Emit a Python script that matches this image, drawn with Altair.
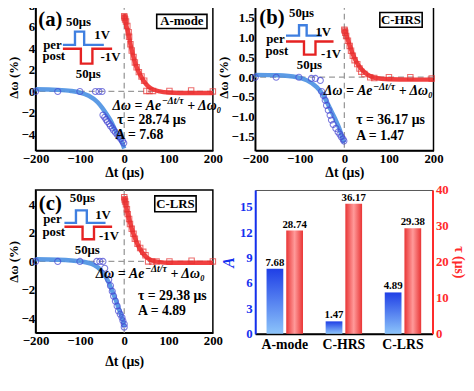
import altair as alt
import pandas as pd

FONT = "Liberation Serif"
BLUE_PT = "#4646d2"
BLUE_LN = "#4a90e2"
RED_PT = "#e63232"
RED_LN = "#ef2b2b"
PULSE_B = "#3f7fe0"
PULSE_R = "#e52222"
AX_BLUE = "#1430f0"
AX_RED = "#ff2a2a"

X_TICKS = [-200, -100, 0, 100, 200]
ZERO = [0]
INSET_TEXT = ["50μs", "1V", "per", "post", "-1V", "50μs"]

# ---------------- (a) A-mode ----------------
A_PRE_T = [-200, -150, -100, -65, -57, -50, -48, -44, -41, -38, -34, -31, -27, -24, -20, -16, -12, -8, -4, -1]
A_PRE_V = [0.0, 0.0, 0.0, 0.0, 0.0, 0.0, -2.2, -2.4, -2.6, -2.8, -3.0, -3.2, -3.4, -3.6, -3.8, -4.0, -4.2, -4.4, -4.6, -4.8]
A_PREFIT_T = [-200, -150, -120, -100, -80, -60, -50, -40, -30, -20, -10, -5, 0]
A_PREFIT_V = [0.2, 0.15, 0.05, -0.1, -0.4, -1.0, -1.5, -2.1, -2.75, -3.6, -4.35, -4.75, -5.3]
A_POST_T = [0, 1, 2, 4, 7, 10, 11, 14, 17, 21, 24, 28, 33, 39, 45, 50, 57, 65, 102, 151, 200]
A_POST_V = [7.0, 6.85, 6.7, 6.5, 6.1, 5.5, 5.1, 4.4, 3.8, 3.2, 2.7, 2.25, 1.8, 1.4, 1.0, 0.05, 0.05, 0.05, 0.05, 0.1, 0.0]
A_POSTFIT_T = [0, 5, 10, 15, 20, 25, 30, 40, 50, 60, 80, 100, 150, 200]
A_POSTFIT_V = [7.2, 6.1, 5.3, 4.2, 3.35, 2.6, 2.05, 1.25, 0.65, 0.3, 0.0, -0.1, -0.15, -0.15]
A_PULSE_B_T = [-138.4, -111.1, -111.1, -90.4, -90.4, -46]
A_PULSE_B_V = [4.33, 4.33, 5.56, 5.56, 4.33, 4.33]
A_PULSE_R_T = [-138.4, -97.8, -97.8, -71.8, -71.8, -27.3]
A_PULSE_R_V = [3.97, 3.97, 2.59, 2.59, 3.97, 3.97]
A_INSET_T = [-103, -50, -162, -159, -31, -81]
A_INSET_V = [6.5, 5.22, 4.30, 3.30, 3.2, 1.65]
A_TAG = ["(a)", -166.7, 6.68]
A_BOX = ["A-mode", 73.3, 186.7, 7.17, 5.86]
A_EQ = [-26.7, -1.37]
A_TAU = ["τ = 28.74 μs", -15.6, -2.66]
A_AMP = ["A = 7.68", -20, -4.03]
A_YDOM = [-5.5, 8.15]
A_YTICKS = [-4, -2, 0, 2, 4, 6, 8]

# ---------------- (b) C-HRS ----------------
B_PRE_T = [-200, -153, -102, -74, -65, -54, -51, -47, -43, -40, -36, -32, -29, -25, -19, -14, -10, -7, -3, -1]
B_PRE_V = [0.0, 0.0, 0.0, -0.03, -0.03, -0.08, -0.36, -0.46, -0.58, -0.71, -0.83, -0.96, -1.08, -1.19, -1.29, -1.38, -1.44, -1.5, -1.56, -1.61]
B_PREFIT_T = [-200, -150, -106, -84, -62, -47, -32, -21, -10, -3, 0]
B_PREFIT_V = [0.06, 0.05, 0.0, -0.08, -0.25, -0.46, -0.79, -1.04, -1.33, -1.58, -1.65]
B_POST_T = [0, 1, 2, 4, 8, 12, 15, 19, 23, 29, 34, 38, 45, 58, 67, 100, 148, 196]
B_POST_V = [1.2, 1.17, 1.12, 1.04, 0.92, 0.79, 0.67, 0.54, 0.43, 0.33, 0.22, 0.14, 0.08, 0.0, -0.02, 0.0, 0.0, -0.03]
B_POSTFIT_T = [0, 10, 20, 30, 40, 50, 70, 100, 150, 200]
B_POSTFIT_V = [1.22, 0.87, 0.55, 0.33, 0.18, 0.08, -0.02, -0.05, -0.06, -0.06]
B_PULSE_B_T = [-131, -101.7, -101.7, -84.6, -84.6, -50.2]
B_PULSE_B_V = [1.05, 1.05, 1.31, 1.31, 1.05, 1.05]
B_PULSE_R_T = [-131, -90.6, -90.6, -64.8, -64.8, -24.3]
B_PULSE_R_V = [0.9, 0.9, 0.57, 0.57, 0.9, 0.9]
B_INSET_T = [-96, -47.5, -154.7, -151.4, -29.8, -78.5]
B_INSET_V = [1.62, 1.15, 0.96, 0.66, 0.58, 0.31]
B_TAG = ["(b)", -162.4, 1.48]
B_BOX = ["C-HRS", 79.6, 174.6, 1.63, 1.26]
B_EQ = [-46, -0.36]
B_TAU = ["τ = 36.17 μs", 26.5, -1.08]
B_AMP = ["A = 1.47", 26.5, -1.48]
B_YDOM = [-1.85, 1.85]
B_YTICKS = [-1.5, -1.0, -0.5, 0.0, 0.5, 1.0, 1.5]

# ---------------- (c) C-LRS ----------------
C_PRE_T = [-200, -150, -100, -62, -55, -48, -44, -38, -35, -31, -27, -24, -20, -16, -13, -9, -5, -3, 0, 0]
C_PRE_V = [0.0, 0.0, 0.0, 0.0, 0.0, 0.0, -0.48, -0.94, -1.29, -1.7, -2.09, -2.43, -2.78, -3.12, -3.47, -3.7, -3.93, -4.16, -4.39, -4.6]
C_PREFIT_T = [-200, -150, -98, -68, -53, -38, -24, -13, -2, 0]
C_PREFIT_V = [0.15, 0.12, 0.0, -0.25, -0.6, -1.29, -2.32, -3.24, -4.28, -4.6]
C_POST_T = [0, 1, 2, 4, 6, 8, 11, 13, 17, 21, 24, 30, 36, 43, 48, 54, 63, 73, 102, 152, 200]
C_POST_V = [4.5, 4.34, 4.2, 4.0, 3.66, 3.31, 2.97, 2.62, 2.28, 1.93, 1.59, 1.24, 0.94, 0.67, 0.43, 0.0, 0.0, 0.0, 0.0, 0.05, 0.0]
C_POSTFIT_T = [0, 5, 10, 15, 20, 30, 40, 50, 60, 80, 100, 150, 200]
C_POSTFIT_V = [4.55, 3.75, 3.1, 2.5, 2.0, 1.2, 0.65, 0.3, 0.1, -0.05, -0.1, -0.1, -0.1]
C_PULSE_B_T = [-134.9, -108.9, -108.9, -84.4, -84.4, -42.2]
C_PULSE_B_V = [2.70, 2.70, 3.57, 3.57, 2.70, 2.70]
C_PULSE_R_T = [-134.9, -94, -94, -68.2, -68.2, -27.3]
C_PULSE_R_V = [2.43, 2.43, 1.55, 1.55, 2.43, 2.43]
C_INSET_T = [-94.4, -47.8, -162, -159, -34.4, -83.3]
C_INSET_V = [4.45, 3.28, 2.98, 2.06, 1.78, 0.81]
C_TAG = ["(c)", -166.7, 4.03]
C_BOX = ["C-LRS", 68.9, 162.2, 4.59, 3.48]
C_EQ = [-64.4, -0.86]
C_TAU = ["τ = 29.38 μs", 31.1, -2.45]
C_AMP = ["A = 4.89", 31.1, -3.48]
C_YDOM = [-5, 5]
C_YTICKS = [-4, -2, 0, 2, 4]

# ---------------- (d) bars ----------------
CATS = ["A-mode", "C-HRS", "C-LRS"]
A_VALS = [7.68, 1.47, 4.89]
TAU_VALS = [28.74, 36.17, 29.38]


def scatter_panel(pre_t, pre_v, pft, pfv, post_t, post_v, qft, qfv,
                  pbt, pbv, prt, prv, inset_t, inset_v, tag, box, eq, tau, amp,
                  ydom, yticks, yfmt, width, height, xtitle_pad):
    xs = alt.Scale(domain=[-200, 200], nice=False)
    ys = alt.Scale(domain=ydom, nice=False, zero=False)
    xax = alt.Axis(values=X_TICKS, title="Δt (μs)", labelPadding=2, titlePadding=xtitle_pad)
    yax = alt.Axis(values=yticks, format=yfmt, title="Δω (%)", labelPadding=1, titlePadding=0,
                   titleFontSize=13)
    X = alt.X("t:Q", scale=xs, axis=xax)
    Y = alt.Y("v:Q", scale=ys, axis=yax)

    zero_df = pd.DataFrame({"t": ZERO, "v": ZERO})
    hline = alt.Chart(zero_df).mark_rule(color="#9a9a9a", strokeDash=[6, 4], strokeWidth=1.3).encode(y=Y)
    vline = alt.Chart(zero_df).mark_rule(color="#9a9a9a", strokeDash=[6, 4], strokeWidth=1.3).encode(x=X)

    pre_fit = alt.Chart(pd.DataFrame({"t": pft, "v": pfv})).mark_line(
        color=BLUE_LN, strokeWidth=4.5, opacity=0.9, interpolate="monotone").encode(x=X, y=Y)
    post_fit = alt.Chart(pd.DataFrame({"t": qft, "v": qfv})).mark_line(
        color=RED_LN, strokeWidth=4.5, opacity=0.9, interpolate="monotone").encode(x=X, y=Y)
    pre_pts = alt.Chart(pd.DataFrame({"t": pre_t, "v": pre_v})).mark_point(
        shape="circle", filled=False, color=BLUE_PT, size=38, strokeWidth=1.1).encode(x=X, y=Y)
    post_pts = alt.Chart(pd.DataFrame({"t": post_t, "v": post_v})).mark_point(
        shape="square", filled=False, color=RED_PT, size=30, strokeWidth=1.1).encode(x=X, y=Y)

    pulse_df = pd.DataFrame({
        "t": list(pbt) + list(prt),
        "v": list(pbv) + list(prv),
        "s": ["per"] * len(pbt) + ["post"] * len(prt),
        "i": list(range(len(pbt))) + list(range(len(prt))),
    })
    pulses = alt.Chart(pulse_df).mark_line(strokeWidth=2.4).encode(
        x=X, y=Y, order="i:Q",
        color=alt.Color("s:N", scale=alt.Scale(domain=["per", "post"], range=[PULSE_B, PULSE_R]), legend=None))

    inset_df = pd.DataFrame({"t": inset_t, "v": inset_v, "text": INSET_TEXT})
    inset = alt.Chart(inset_df).mark_text(font=FONT, fontWeight="bold", fontSize=13,
                                          color="black", baseline="middle").encode(x=X, y=Y, text="text:N")
    tag_df = pd.DataFrame({"t": [tag[1]], "v": [tag[2]], "text": [tag[0]]})
    tagm = alt.Chart(tag_df).mark_text(font=FONT, fontWeight="bold", fontSize=21,
                                       color="black", baseline="middle").encode(x=X, y=Y, text="text:N")
    box_df = pd.DataFrame({"t": [box[1]], "t2": [box[2]], "v": [box[3]], "v2": [box[4]],
                           "tc": [(box[1] + box[2]) / 2], "vc": [(box[3] + box[4]) / 2], "text": [box[0]]})
    boxr = alt.Chart(box_df).mark_rect(fill="white", stroke="black", strokeWidth=1.6).encode(
        x=X, x2="t2", y=Y, y2="v2")
    boxt = alt.Chart(box_df).mark_text(font=FONT, fontWeight="bold", fontSize=13, color="black",
                                       baseline="middle").encode(
        x=alt.X("tc:Q", scale=xs, axis=xax), y=alt.Y("vc:Q", scale=ys, axis=yax), text="text:N")

    eq_df = pd.DataFrame({"t": [eq[0]], "v": [eq[1]]})
    eq_kw = dict(font=FONT, fontWeight="bold", fontStyle="italic", color="black",
                 align="left", baseline="middle")
    eq1 = alt.Chart(eq_df).mark_text(fontSize=14, **eq_kw).encode(x=X, y=Y, text=alt.value("Δω = Ae"))
    eq2 = alt.Chart(eq_df).mark_text(fontSize=10, dx=50, dy=-5, **eq_kw).encode(x=X, y=Y, text=alt.value("−Δt/τ"))
    eq3 = alt.Chart(eq_df).mark_text(fontSize=14, dx=76, **eq_kw).encode(x=X, y=Y, text=alt.value("+ Δω₀"))

    par_df = pd.DataFrame({"t": [tau[1], amp[1]], "v": [tau[2], amp[2]], "text": [tau[0], amp[0]]})
    pars = alt.Chart(par_df).mark_text(font=FONT, fontWeight="bold", fontSize=14, color="black",
                                       align="left", baseline="middle").encode(x=X, y=Y, text="text:N")

    return alt.layer(hline, vline, pre_fit, post_fit, pre_pts, post_pts, pulses, inset, tagm,
                     boxr, boxt, eq1, eq2, eq3, pars).properties(width=width, height=height)


pa = scatter_panel(A_PRE_T, A_PRE_V, A_PREFIT_T, A_PREFIT_V, A_POST_T, A_POST_V, A_POSTFIT_T, A_POSTFIT_V,
                   A_PULSE_B_T, A_PULSE_B_V, A_PULSE_R_T, A_PULSE_R_V, A_INSET_T, A_INSET_V,
                   A_TAG, A_BOX, A_EQ, A_TAU, A_AMP, A_YDOM, A_YTICKS, "d", 180, 149, 0)
pb = scatter_panel(B_PRE_T, B_PRE_V, B_PREFIT_T, B_PREFIT_V, B_POST_T, B_POST_V, B_POSTFIT_T, B_POSTFIT_V,
                   B_PULSE_B_T, B_PULSE_B_V, B_PULSE_R_T, B_PULSE_R_V, B_INSET_T, B_INSET_V,
                   B_TAG, B_BOX, B_EQ, B_TAU, B_AMP, B_YDOM, B_YTICKS, ".1f", 181, 149, 0)
pc = scatter_panel(C_PRE_T, C_PRE_V, C_PREFIT_T, C_PREFIT_V, C_POST_T, C_POST_V, C_POSTFIT_T, C_POSTFIT_V,
                   C_PULSE_B_T, C_PULSE_B_V, C_PULSE_R_T, C_PULSE_R_V, C_INSET_T, C_INSET_V,
                   C_TAG, C_BOX, C_EQ, C_TAU, C_AMP, C_YDOM, C_YTICKS, "d", 180, 145, 7)

# ---- (d) ----
dA = pd.DataFrame({"cat": CATS, "val": A_VALS, "s": ["A"] * 3})
dT = pd.DataFrame({"cat": CATS, "val": TAU_VALS, "s": ["tau"] * 3})
xcat = alt.X("cat:N", sort=CATS, scale=alt.Scale(paddingInner=0, paddingOuter=0),
             axis=alt.Axis(title=None, labelAngle=0, labelFontSize=14, domainWidth=2, labelPadding=4))
xoff = alt.XOffset("s:N", scale=alt.Scale(domain=["A", "tau"], paddingInner=0.15, paddingOuter=0.575))
yA = alt.Y("val:Q", scale=alt.Scale(domain=[0, 17], nice=False),
           axis=alt.Axis(orient="left", values=[0, 3, 6, 9, 12, 15], title="A", titleFontStyle="italic",
                         titleFontSize=16, labelColor=AX_BLUE, titleColor=AX_BLUE, domainColor=AX_BLUE,
                         domainWidth=2))
yT = alt.Y("val:Q", scale=alt.Scale(domain=[0, 40], nice=False),
           axis=alt.Axis(orient="right", values=[0, 10, 20, 30, 40], title="τ (μs)",
                         labelColor=AX_RED, titleColor=AX_RED, domainColor=AX_RED, domainWidth=2))
grad_b = alt.Gradient(gradient="linear", x1=0, y1=0, x2=0, y2=1,
                      stops=[alt.GradientStop(color="#1f3fe6", offset=0),
                             alt.GradientStop(color="#8cc4fa", offset=1)])
grad_r = alt.Gradient(gradient="linear", x1=0, y1=0, x2=1, y2=0,
                      stops=[alt.GradientStop(color="#e93535", offset=0),
                             alt.GradientStop(color="#ff9a9a", offset=0.5),
                             alt.GradientStop(color="#e93535", offset=1)])
bar_kw = dict(font=FONT, fontWeight="bold", fontSize=11, color="black", baseline="bottom", dy=-1)
blue = alt.layer(
    alt.Chart(dA).mark_bar(color=grad_b).encode(x=xcat, xOffset=xoff, y=yA),
    alt.Chart(dA).mark_text(**bar_kw).encode(x=xcat, xOffset=xoff, y=yA, text=alt.Text("val:Q", format=".2f")),
)
red = alt.layer(
    alt.Chart(dT).mark_bar(color=grad_r).encode(x=xcat, xOffset=xoff, y=yT),
    alt.Chart(dT).mark_text(**bar_kw).encode(x=xcat, xOffset=xoff, y=yT, text=alt.Text("val:Q", format=".2f")),
)
pd_chart = alt.layer(blue, red).resolve_scale(y="independent").properties(
    width=180, height=146, view=alt.ViewBackground(stroke="#555", strokeWidth=1))

chart = alt.concat(pa, pb, pc, pd_chart, columns=2, spacing={"row": 40, "column": 43}, bounds="flush").configure_axis(
    labelFont=FONT, labelFontWeight="bold", labelFontSize=13, labelColor="black",
    titleFont=FONT, titleFontWeight="bold", titleFontSize=14, titleColor="black",
    domainColor="black", domainWidth=1.5, ticks=False, grid=False, labelFlush=False,
    labelOverlap=False, labelPadding=3, titlePadding=3,
).configure_view(stroke="black", strokeWidth=1.5).properties(
    padding={"left": -1, "top": -13, "right": 0, "bottom": 0})

chart.save("out.html", embed_options={"renderer": "svg", "actions": False})
